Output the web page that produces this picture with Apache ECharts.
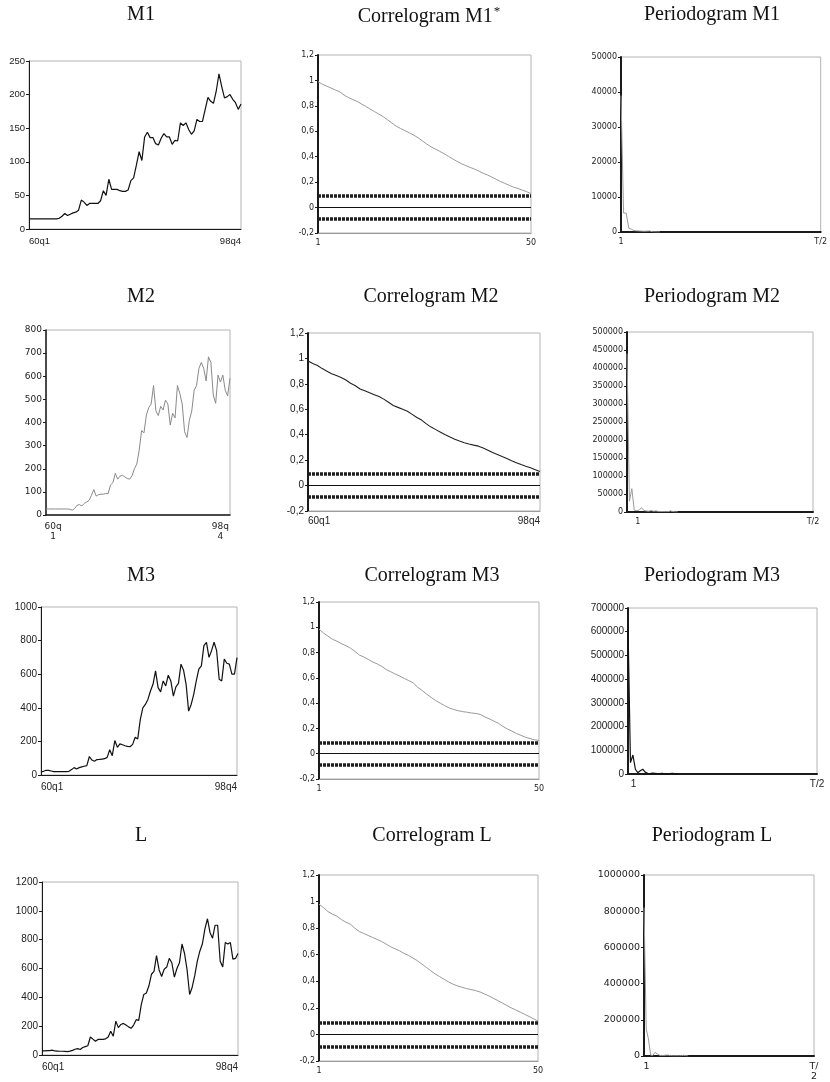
<!DOCTYPE html>
<html>
<head>
<meta charset="utf-8">
<title>M1, M2, M3, L</title>
<script src="https://cdn.jsdelivr.net/npm/echarts@6.0.0/dist/echarts.min.js"></script>
<style>
	html, body { margin: 0; padding: 0; background: #fff; }
	#main { width: 830px; height: 1082px; }
</style>
</head>
<body>
<div id="main"></div>
<script>
/* tick labels */
var tsLabels = ['60q1', '98q4'];
var tsLabelsWrapped = ['60q\n1', '98q\n4'];
var acfLabels = ['1', '50'];
var perLabels = ['1', 'T/2'];
var perLabelsWrapped = ['1', 'T/\n2'];

/* series, half-yearly readings 60q1 .. 98q4 */
var m1 = [15, 15, 15, 15, 15, 15, 15, 15, 15, 15,
	15, 16, 19, 23, 20, 22, 24, 25, 28, 43,
	40, 35, 38, 38, 38, 38, 42, 57, 50, 74,
	59, 59, 59, 57, 56, 56, 58, 72, 76, 95,
	115, 102, 137, 144, 136, 136, 127, 125, 135, 142,
	137, 137, 126, 132, 131, 158, 154, 158, 148, 141,
	146, 163, 160, 160, 178, 196, 190, 187, 205, 231,
	212, 195, 197, 200, 193, 188, 178, 186];
var m2 = [26, 26, 26, 26, 26, 26, 26, 26, 26, 26,
	25, 21, 28, 42, 45, 39, 50, 56, 63, 85,
	110, 82, 88, 90, 90, 93, 92, 130, 140, 180,
	155, 168, 172, 165, 158, 155, 170, 200, 220, 280,
	365, 355, 432, 465, 480, 560, 450, 430, 470, 454,
	497, 480, 389, 440, 420, 560, 526, 480, 360, 335,
	410, 450, 540, 560, 634, 660, 634, 580, 684, 660,
	519, 483, 605, 575, 605, 540, 515, 591];
var m3 = [18, 22, 28, 28, 24, 20, 20, 20, 20, 20,
	20, 22, 32, 44, 36, 44, 48, 52, 56, 110,
	89, 82, 92, 93, 95, 97, 105, 150, 115, 205,
	165, 185, 180, 174, 170, 168, 182, 225, 215, 330,
	400, 420, 450, 500, 540, 620, 520, 495, 560, 530,
	594, 560, 470, 525, 545, 660, 624, 540, 380, 420,
	480, 560, 630, 650, 770, 790, 700, 740, 790, 740,
	570, 560, 690, 665, 660, 600, 600, 699];
var lSeries = [28, 28, 30, 30, 34, 28, 27, 26, 26, 25,
	23, 27, 32, 40, 44, 38, 52, 58, 64, 125,
	110, 95, 108, 108, 108, 112, 125, 165, 130, 235,
	190, 212, 219, 208, 195, 185, 208, 245, 240, 350,
	420, 430, 480, 560, 580, 690, 590, 545, 595, 610,
	670, 640, 540, 600, 640, 770, 704, 590, 420, 470,
	550, 650, 720, 770, 875, 945, 850, 810, 900, 900,
	650, 611, 780, 770, 780, 665, 670, 704];

/* autocorrelations, lags 1 .. 50 */
var acfM1 = [0.99, 0.97, 0.955, 0.94, 0.925, 0.91, 0.885, 0.865, 0.85, 0.835,
	0.815, 0.795, 0.775, 0.755, 0.735, 0.715, 0.69, 0.665, 0.64, 0.622,
	0.605, 0.588, 0.57, 0.55, 0.525, 0.5, 0.478, 0.46, 0.442, 0.424,
	0.403, 0.383, 0.363, 0.345, 0.33, 0.316, 0.303, 0.287, 0.27, 0.256,
	0.24, 0.222, 0.205, 0.19, 0.175, 0.16, 0.15, 0.137, 0.125, 0.11];
var acfM2 = [0.98, 0.96, 0.945, 0.92, 0.9, 0.88, 0.865, 0.85, 0.83, 0.805,
	0.785, 0.76, 0.745, 0.73, 0.715, 0.7, 0.68, 0.655, 0.63, 0.615,
	0.6, 0.585, 0.56, 0.535, 0.515, 0.485, 0.46, 0.44, 0.42, 0.4,
	0.382, 0.365, 0.35, 0.337, 0.327, 0.318, 0.31, 0.295, 0.278, 0.26,
	0.245, 0.228, 0.212, 0.195, 0.18, 0.165, 0.152, 0.14, 0.125, 0.11];
var acfM3 = [0.985, 0.955, 0.93, 0.905, 0.89, 0.87, 0.855, 0.835, 0.81, 0.78,
	0.765, 0.745, 0.725, 0.71, 0.69, 0.665, 0.648, 0.63, 0.614, 0.595,
	0.578, 0.56, 0.525, 0.5, 0.47, 0.445, 0.42, 0.4, 0.38, 0.362,
	0.35, 0.34, 0.333, 0.328, 0.322, 0.318, 0.31, 0.29, 0.275, 0.257,
	0.24, 0.215, 0.195, 0.178, 0.16, 0.145, 0.13, 0.12, 0.11, 0.105];
var acfL = [0.98, 0.955, 0.925, 0.905, 0.89, 0.865, 0.845, 0.83, 0.8, 0.775,
	0.76, 0.745, 0.73, 0.715, 0.7, 0.68, 0.66, 0.645, 0.63, 0.61,
	0.595, 0.575, 0.555, 0.53, 0.505, 0.48, 0.455, 0.435, 0.415, 0.395,
	0.378, 0.365, 0.355, 0.345, 0.338, 0.33, 0.32, 0.305, 0.29, 0.272,
	0.255, 0.237, 0.218, 0.2, 0.185, 0.168, 0.152, 0.135, 0.118, 0.1];
var acfBand = [0.085, -0.085];

/* periodogram ordinates from frequency 1 on (the rest lies on zero) */
var perM1 = [39000, 5400, 5400, 1100, 800, 400, 350, 300, 250, 200, 250, 300, 100, 50, 20, 10];
var perM2 = [440000, 30000, 65000, 5000, 4000, 5000, 12000, 4000, 3000, 2000, 4000, 2000, 3000, 1500, 1000, 1500, 1000, 1000, 3000, 1000, 500, 300];
var perM3 = [625000, 48000, 80000, 20000, 5600, 14000, 20000, 8000, 3000, 2000, 4000, 3000, 2000, 1500, 3000, 1000, 1000, 2000, 3000, 1500, 500];
var perL = [820000, 150000, 95000, 5000, 3000, 20000, 12000, 4000, 2000, 3000, 5000, 5000, 2000, 1500, 1000, 1500, 1000, 2000, 4000, 1500, 500];
var perHalfT = 78;

window.onload = function () {
	var chart = echarts.init(document.getElementById('main'));

	var armFont = "'Liberation Sans', Arial, sans-serif";
	var wideFont = "'DejaVu Sans', Verdana, sans-serif";
	var titleFont = "'Liberation Serif', 'Times New Roman', serif";

	var panels = [
		{ title: 'M1', tx: 141, ty: 15, box: [29, 61, 212, 168], kind: 'ts', values: m1, yMax: 250, yStep: 50, color: '#111', width: 1.2, font: armFont, size: 9.5, labels: tsLabels, axisW: 1 },
		{ title: 'Correlogram M1{sup|*}', tx: 429, ty: 15, box: [318, 55, 213, 178], kind: 'acf', values: acfM1, color: '#9a9a9a', width: 1, font: wideFont, size: 8, labels: acfLabels, axisW: 2 },
		{ title: 'Periodogram M1', tx: 712, ty: 15, box: [621, 57, 201, 175], kind: 'per', values: perM1, yMax: 50000, yStep: 10000, color: '#9a9a9a', width: 1, font: wideFont, size: 8, labels: perLabels, labelPos: [1, perHalfT], axisW: 2 },

		{ title: 'M2', tx: 141, ty: 297, box: [46, 330, 184, 185], kind: 'ts', values: m2, yMax: 800, yStep: 100, color: '#8a8a8a', width: 1, font: wideFont, size: 9, labels: tsLabelsWrapped, labelPos: [3, 73], labelAlign: 'center', axisW: 1.5 },
		{ title: 'Correlogram M2', tx: 431, ty: 297, box: [308, 333, 232, 178], kind: 'acf', values: acfM2, color: '#222', width: 1.1, font: armFont, size: 10, labels: tsLabels, axisW: 2 },
		{ title: 'Periodogram M2', tx: 712, ty: 297, box: [627, 332, 186, 180], kind: 'per', values: perM2, yMax: 500000, yStep: 50000, color: '#9a9a9a', width: 1, font: wideFont, size: 8, labels: perLabels, labelPos: [5.5, perHalfT], axisW: 2 },

		{ title: 'M3', tx: 141, ty: 576, box: [41, 607, 196, 168], kind: 'ts', values: m3, yMax: 1000, yStep: 200, color: '#111', width: 1.2, font: armFont, size: 10, labels: tsLabels, axisW: 1 },
		{ title: 'Correlogram M3', tx: 432, ty: 576, box: [319, 602, 220, 177], kind: 'acf', values: acfM3, color: '#9a9a9a', width: 1, font: wideFont, size: 8, labels: acfLabels, axisW: 2 },
		{ title: 'Periodogram M3', tx: 712, ty: 576, box: [628, 608, 189, 166], kind: 'per', values: perM3, yMax: 700000, yStep: 100000, color: '#111', width: 1.2, font: armFont, size: 10, labels: perLabels, labelPos: [3.3, perHalfT], axisW: 2 },

		{ title: 'L', tx: 141, ty: 836, box: [42, 882, 196, 173], kind: 'ts', values: lSeries, yMax: 1200, yStep: 200, color: '#111', width: 1.2, font: armFont, size: 10, labels: tsLabels, axisW: 1 },
		{ title: 'Correlogram L', tx: 432, ty: 836, box: [319, 875, 219, 186], kind: 'acf', values: acfL, color: '#9a9a9a', width: 1, font: wideFont, size: 8, labels: acfLabels, axisW: 2 },
		{ title: 'Periodogram L', tx: 712, ty: 836, box: [644, 875, 170, 187], kind: 'per', values: perL, yMax: 1000000, yStep: 200000, color: '#9a9a9a', width: 1, font: wideFont, size: 9.5, labels: perLabelsWrapped, labelPos: [2.1, perHalfT], axisW: 2 }
	];

	var option = {
		animation: false,
		backgroundColor: '#fff',
		title: [],
		grid: [],
		xAxis: [],
		yAxis: [],
		series: []
	};

	panels.forEach(function (p, i) {
		option.title.push({
			text: p.title,
			left: p.tx,
			top: p.ty - 10,
			textAlign: 'center',
			padding: 0,
			textStyle: {
				fontFamily: titleFont,
				fontWeight: 'normal',
				fontSize: 20,
				color: '#111',
				rich: {
					sup: { fontFamily: titleFont, fontSize: 13, verticalAlign: 'top', padding: [0, 0, 10, 1], color: '#111' }
				}
			}
		});

		option.grid.push({
			left: p.box[0],
			top: p.box[1],
			width: p.box[2],
			height: p.box[3],
			show: true,
			borderColor: '#b4b4b4',
			borderWidth: 1,
			backgroundColor: 'transparent'
		});

		/* x axis */
		var xMin, xMax;
		if (p.kind == 'ts') {
			xMin = 0;
			xMax = p.values.length - 1;
		} else if (p.kind == 'acf') {
			xMin = 1;
			xMax = p.values.length;
		} else {
			xMin = 1;
			xMax = perHalfT;
		}
		var pos = p.labelPos || [xMin, xMax];
		var xLabel = {
			customValues: pos,
			margin: p.kind == 'ts' ? 7 : 5,
			fontFamily: p.font,
			fontSize: p.size,
			color: '#222',
			lineHeight: p.size + 1,
			formatter: function (v) {
				return Math.abs(v - pos[0]) < Math.abs(v - pos[1]) ? p.labels[0] : p.labels[1];
			}
		};
		if (p.labelAlign) {
			xLabel.align = p.labelAlign;
		} else if (p.kind == 'ts' || p.labels === tsLabels) {
			xLabel.alignMinLabel = 'left';
			xLabel.alignMaxLabel = 'right';
		}
		option.xAxis.push({
			gridIndex: i,
			type: 'value',
			min: xMin,
			max: xMax,
			axisLine: {
				onZero: false,
				lineStyle: {
					color: p.kind == 'acf' ? '#9a9a9a' : '#1a1a1a',
					width: p.kind == 'acf' ? 1 : p.axisW
				}
			},
			axisTick: { show: false },
			splitLine: { show: false },
			axisLabel: xLabel
		});

		/* y axis */
		var yAxis = {
			gridIndex: i,
			type: 'value',
			axisLine: { show: true, onZero: false, lineStyle: { color: '#1a1a1a', width: p.axisW } },
			axisTick: { show: true, length: 3, lineStyle: { color: '#1a1a1a', width: 1 } },
			splitLine: { show: false },
			axisLabel: {
				margin: 4,
				fontFamily: p.font,
				fontSize: p.size,
				color: '#222',
				formatter: function (v) {
					return String(v);
				}
			}
		};
		if (p.kind == 'acf') {
			yAxis.min = -0.2;
			yAxis.max = 1.2;
			yAxis.interval = 0.2;
			yAxis.axisLabel.formatter = function (v) {
				return String(Math.round(v * 10) / 10).replace('.', ',');
			};
		} else {
			yAxis.min = 0;
			yAxis.max = p.yMax;
			yAxis.interval = p.yStep;
		}
		option.yAxis.push(yAxis);

		/* the line itself */
		var offset = p.kind == 'ts' ? 0 : 1;
		var s = {
			type: 'line',
			xAxisIndex: i,
			yAxisIndex: i,
			showSymbol: false,
			symbol: 'none',
			lineStyle: { color: p.color, width: p.width },
			data: p.values.map(function (v, k) {
				return [k + offset, v];
			}),
			z: 3
		};
		if (p.kind == 'acf') {
			s.markLine = {
				silent: true,
				symbol: 'none',
				label: { show: false },
				data: [
					{ yAxis: 0, lineStyle: { type: 'solid', width: 1, color: '#111' } },
					{ yAxis: acfBand[0], lineStyle: { type: [3, 1], width: 3.5, color: '#1e1e1e' } },
					{ yAxis: acfBand[1], lineStyle: { type: [3, 1], width: 3.5, color: '#1e1e1e' } }
				]
			};
		}
		option.series.push(s);
	});

	chart.setOption(option);
};
</script>
</body>
</html>
